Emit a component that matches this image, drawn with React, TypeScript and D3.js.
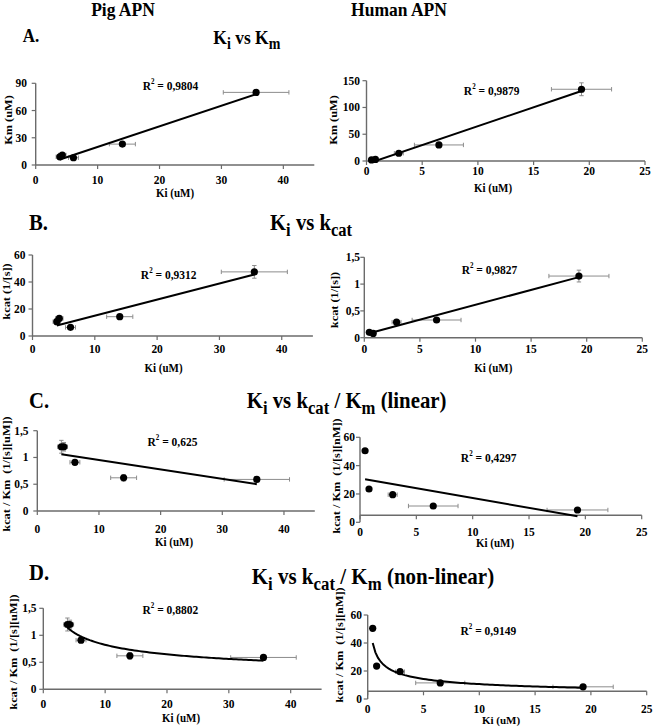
import React from 'react';
import * as d3 from 'd3';

// ---------- data ----------
const pigKi = [3.9, 4.3, 6.1, 14.0, 35.6];
const pigKiErr = [0.6, 0.6, 0.8, 2.1, 5.3];
const pigKm = [9, 11, 8, 23, 80];
const pigKmErr = [1.5, 1.5, 1, 2, 2];
const pigKcat = [10.6, 13, 6.4, 14.3, 47.5];
const pigKcatErr = [2, 1.5, 1, 1, 4.7];
const pigKcatKm = [1.2, 1.2, 0.91, 0.62, 0.59];
const pigKcatKmErr = [0.12, 0.08, 0.04, 0.06, 0.03];

const humanKi = [0.45, 0.8, 2.9, 6.5, 19.3];
const humanKiErr = [0.1, 0.15, 0.4, 2.2, 2.7];
const humanKm = [2, 3, 14.5, 30, 134];
const humanKmErr = [0.5, 0.5, 1.5, 2, 12];
const humanKcat = [0.1, 0.08, 0.29, 0.33, 1.15];
const humanKcatErr = [0.01, 0.01, 0.02, 0.02, 0.11];
const humanKcatKm = [50.5, 23.5, 19.5, 11.5, 8.7];
const humanKcatKmErr = [0.5, 0.5, 0.5, 0.5, 0.5];

const pigXTicks = [0, 10, 20, 30, 40];
const humanXTicks = [0, 5, 10, 15, 20, 25];
const pigKmTicks = [0, 30, 60, 90];
const humanKmTicks = [0, 50, 100, 150];
const pigKcatTicks = [0, 20, 40, 60];
const ratioTicks = [0, 0.5, 1, 1.5];
const humanRatioTicks = [0, 20, 40, 60];

const r2Labels = ['0,9804', '0,9879', '0,9312', '0,9827', '0,625', '0,4297', '0,8802', '0,9149'];
const yLabels = ['Km (uM)', 'Km (uM)', 'kcat (1/[s])', 'kcat (1/[s])', 'kcat / Km  (1/[s][uM])', 'kcat / Km  (1/[s][nM])', 'kcat / Km  (1/[s][uM])', 'kcat / Km  (1/[s][nM])'];
const xLabel = 'Ki (uM)';
const fitTypes = ['linear', 'linear', 'linear', 'linear', 'linear', 'linear', 'power', 'power'];

// ---------- layout ----------
const SY = 1.12;
const FONT = '"Liberation Serif", "Times New Roman", Times, serif';

const layout = [
  { xr: [35.7, 314.3], yr: [165, 83.3], xTickY: 183.5, yTickX: 27, xl: [175, 197], yl: [8, 120], r2: [170.5, 90] },
  { xr: [366.5, 645], yr: [161, 80.7], xTickY: 175, yTickX: 360, xl: [493, 192], yl: [333, 120], r2: [491.7, 95] },
  { xr: [32.5, 312.9], yr: [336, 255], xTickY: 353, yTickX: 25.5, xl: [163.5, 372], yl: [6, 291.5], r2: [168.7, 279] },
  { xr: [364.3, 642.3], yr: [337.7, 257.3], xTickY: 352.5, yTickX: 360, xl: [493.3, 372], yl: [334, 300], r2: [489.5, 274] },
  { xr: [37.3, 314.8], yr: [511, 430.7], xTickY: 533, yTickX: 28.5, xl: [174, 546], yl: [6, 474], r2: [172.5, 446] },
  { xr: [360, 641.7], yr: [522.3, 437.3], xTickY: 536, yTickX: 355, xl: [495, 547], yl: [336, 476], r2: [488.7, 461.7], axisAt: 5 },
  { xr: [43.3, 321.6], yr: [689.3, 608.3], xTickY: 708, yTickX: 36.5, xl: [181, 722], yl: [13, 652], r2: [170.3, 614] },
  { xr: [367.7, 646.7], yr: [699, 615], xTickY: 713, yTickX: 362, xl: [501, 723.5], yl: [339, 645], r2: [488.3, 635], axisAt: 5.5, xlSy: 1 },
];

const panelData = [
  { xs: pigKi, xe: pigKiErr, ys: pigKm, ye: pigKmErr, xd: [0, 45], yd: [0, 90], xt: pigXTicks, yt: pigKmTicks },
  { xs: humanKi, xe: humanKiErr, ys: humanKm, ye: humanKmErr, xd: [0, 25], yd: [0, 150], xt: humanXTicks, yt: humanKmTicks },
  { xs: pigKi, xe: pigKiErr, ys: pigKcat, ye: pigKcatErr, xd: [0, 45], yd: [0, 60], xt: pigXTicks, yt: pigKcatTicks },
  { xs: humanKi, xe: humanKiErr, ys: humanKcat, ye: humanKcatErr, xd: [0, 25], yd: [0, 1.5], xt: humanXTicks, yt: ratioTicks },
  { xs: pigKi, xe: pigKiErr, ys: pigKcatKm, ye: pigKcatKmErr, xd: [0, 45], yd: [0, 1.5], xt: pigXTicks, yt: ratioTicks },
  { xs: humanKi, xe: humanKiErr, ys: humanKcatKm, ye: humanKcatKmErr, xd: [0, 25], yd: [0, 60], xt: humanXTicks, yt: humanRatioTicks },
  { xs: pigKi, xe: pigKiErr, ys: pigKcatKm, ye: pigKcatKmErr, xd: [0, 45], yd: [0, 1.5], xt: pigXTicks, yt: ratioTicks },
  { xs: humanKi, xe: humanKiErr, ys: humanKcatKm, ye: humanKcatKmErr, xd: [0, 25], yd: [0, 60], xt: humanXTicks, yt: humanRatioTicks },
];

const fmt = (v: number) => String(v).replace('.', ',');

function ST({ x, y, size, anchor = 'start', rotate = false, children, weight = 'bold', sy = SY }: any) {
  return (
    <text
      transform={`translate(${x},${y}) scale(1,${sy})${rotate ? ' rotate(-90)' : ''}`}
      fontSize={size}
      textAnchor={anchor}
      fontFamily={FONT}
      fontWeight={weight}
      fill="#000"
      style={{ whiteSpace: 'pre' }}
    >
      {children}
    </text>
  );
}

function linearFit(xs: number[], ys: number[]) {
  const mx = d3.mean(xs)!, my = d3.mean(ys)!;
  let sxy = 0, sxx = 0;
  xs.forEach((x, i) => { sxy += (x - mx) * (ys[i] - my); sxx += (x - mx) ** 2; });
  const b = sxy / sxx, a = my - b * mx;
  return (x: number) => a + b * x;
}
function powerFit(xs: number[], ys: number[]) {
  const lf = linearFit(xs.map(Math.log), ys.map(Math.log));
  return (x: number) => Math.exp(lf(Math.log(x)));
}

function Panel({ idx }: { idx: number }) {
  const d = panelData[idx];
  const L: any = layout[idx];
  const x = d3.scaleLinear().domain(d.xd).range(L.xr);
  const y = d3.scaleLinear().domain(d.yd).range(L.yr);
  const axisY = y(L.axisAt ?? 0);
  const fn = fitTypes[idx] === 'power' ? powerFit(d.xs, d.ys) : linearFit(d.xs, d.ys);
  const [x0, x1] = d3.extent(d.xs) as [number, number];
  const n = fitTypes[idx] === 'power' ? 80 : 2;
  const pts = d3.range(n).map(i => x0 + (x1 - x0) * i / (n - 1));
  const line = d3.line<number>().x(v => x(v)).y(v => y(fn(v)))(pts) || '';
  const clipId = `clip${idx}`;
  const axisColor = '#6b6b6b';
  const errColor = '#8c8c8c';
  const cap = 2.2;
  return (
    <g>
      <defs>
        <clipPath id={clipId}>
          <rect x={L.xr[0]} y={L.yr[1]} width={L.xr[1] - L.xr[0]} height={L.yr[0] - L.yr[1]} />
        </clipPath>
      </defs>
      <line x1={L.xr[0]} x2={L.xr[0]} y1={L.yr[0]} y2={L.yr[1]} stroke={axisColor} strokeWidth={1.4} />
      <line x1={L.xr[0]} x2={L.xr[1]} y1={axisY} y2={axisY} stroke={axisColor} strokeWidth={1.4} />
      {d.yt.map(t => (
        <g key={'yt' + t}>
          <line x1={L.xr[0] - 4} x2={L.xr[0]} y1={y(t)} y2={y(t)} stroke={axisColor} strokeWidth={1.2} />
          <ST x={L.yTickX} y={y(t) + 4} size={11.5} anchor="end">{fmt(t)}</ST>
        </g>
      ))}
      {d.xt.map(t => (
        <g key={'xt' + t}>
          <line x1={x(t)} x2={x(t)} y1={axisY} y2={axisY + 4} stroke={axisColor} strokeWidth={1.2} />
          <ST x={x(t)} y={L.xTickY} size={11.5} anchor="middle">{fmt(t)}</ST>
        </g>
      ))}
      {d.xs.map((xv, i) => {
        const yv = d.ys[i];
        const xa = x(xv - d.xe[i]), xb = x(xv + d.xe[i]);
        const ya = y(yv - d.ye[i]), yb = y(yv + d.ye[i]);
        return (
          <g key={'e' + i} stroke={errColor} strokeWidth={1}>
            <line x1={xa} x2={xb} y1={y(yv)} y2={y(yv)} />
            <line x1={xa} x2={xa} y1={y(yv) - cap} y2={y(yv) + cap} />
            <line x1={xb} x2={xb} y1={y(yv) - cap} y2={y(yv) + cap} />
            <line x1={x(xv)} x2={x(xv)} y1={ya} y2={yb} />
            <line x1={x(xv) - cap} x2={x(xv) + cap} y1={ya} y2={ya} />
            <line x1={x(xv) - cap} x2={x(xv) + cap} y1={yb} y2={yb} />
          </g>
        );
      })}
      {d.xs.map((xv, i) => (
        <circle key={'p' + i} cx={x(xv)} cy={y(d.ys[i])} r={3.6} fill="#000" />
      ))}
      <path d={line} fill="none" stroke="#000" strokeWidth={2} clipPath={`url(#${clipId})`} />
      <text
        transform={`translate(${L.r2[0]},${L.r2[1]}) scale(1,${SY})`}
        fontSize={11.5}
        textAnchor="middle"
        fontFamily={FONT}
        fontWeight="bold"
      >
        R<tspan fontSize={7} dy={-5}>2</tspan>
        <tspan dy={5}>{' = ' + r2Labels[idx]}</tspan>
      </text>
      <ST x={L.xl[0]} y={L.xl[1]} size={11} anchor="middle" sy={L.xlSy ?? SY}>{xLabel}</ST>
      <ST x={L.yl[0] + 4} y={L.yl[1]} size={11} anchor="middle" rotate>{yLabels[idx]}</ST>
    </g>
  );
}

const panelTitles: [string, number][][] = [
  [['K', 0], ['i', 1], [' vs K', 0], ['m', 1]],
  [['K', 0], ['i', 1], [' vs k', 0], ['cat', 1]],
  [['K', 0], ['i', 1], [' vs k', 0], ['cat', 1], [' / K', 0], ['m', 1], [' (linear)', 0]],
  [['K', 0], ['i', 1], [' vs k', 0], ['cat', 1], [' / K', 0], ['m', 1], [' (non-linear)', 0]],
];
const titleLayout = [
  { x: 213.3, y: 44, size: 17.5 },
  { x: 270, y: 230, size: 20.7 },
  { x: 246.7, y: 408, size: 20.8 },
  { x: 251.7, y: 584, size: 21 },
];
const sectionLetters = ['A.', 'B.', 'C.', 'D.'];
const letterLayout = [
  { x: 22.7, y: 41.7, size: 17 },
  { x: 29, y: 230, size: 20.7 },
  { x: 29, y: 408, size: 20.7 },
  { x: 29, y: 580, size: 20.7 },
];
const columnHeaders = ['Pig APN', 'Human APN'];
const headerX = [123, 399];

function Title({ i }: { i: number }) {
  const T = titleLayout[i];
  const segs = panelTitles[i];
  const sub = T.size * 0.8;
  const shift = T.size * 0.25;
  let state = 0;
  return (
    <text
      transform={`translate(${T.x},${T.y}) scale(1,${SY})`}
      fontSize={T.size}
      fontFamily={FONT}
      fontWeight="bold"
      style={{ whiteSpace: 'pre' }}
    >
      {segs.map(([s, isSub], k) => {
        const dy = isSub && !state ? shift : !isSub && state ? -shift : 0;
        state = isSub;
        return (
          <tspan key={k} dy={dy} fontSize={isSub ? sub : T.size}>{s}</tspan>
        );
      })}
    </text>
  );
}

export default function App() {
  return (
    <svg
      width={656}
      height={727}
      style={{ position: 'absolute', left: 0, top: 0, background: '#fff' }}
    >
      <rect width={656} height={727} fill="#fff" />
      {columnHeaders.map((h, i) => (
        <ST key={h} x={headerX[i]} y={16} size={17.5} anchor="middle" sy={1.05}>{h}</ST>
      ))}
      {sectionLetters.map((l, i) => (
        <ST key={l} x={letterLayout[i].x} y={letterLayout[i].y} size={letterLayout[i].size}>{l}</ST>
      ))}
      {panelTitles.map((_, i) => <Title key={i} i={i} />)}
      {panelData.map((_, i) => <Panel key={i} idx={i} />)}
    </svg>
  );
}
